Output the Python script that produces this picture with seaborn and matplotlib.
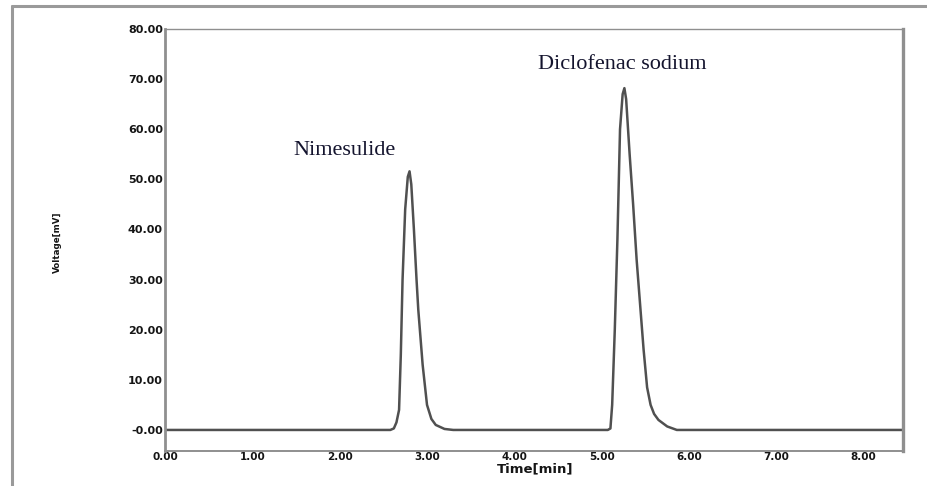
import matplotlib
matplotlib.use("Agg")
import matplotlib.pyplot as plt
from matplotlib.lines import Line2D
import seaborn as sns
import pandas as pd

# ---- data ----
baseline_start_t = [0.00, 1.00, 2.00, 2.50]
baseline_start_v = [0.0, 0.0, 0.0, 0.0]

nimesulide_t = [2.58, 2.62, 2.65, 2.68, 2.70, 2.72, 2.75, 2.78, 2.80, 2.82, 2.85, 2.88,
                2.90, 2.95, 3.00, 3.05, 3.10, 3.20, 3.30]
nimesulide_v = [0.0, 0.3, 1.5, 4.0, 15.0, 30.0, 44.0, 50.5, 51.6, 49.0, 40.0, 30.0,
                24.0, 13.0, 5.0, 2.2, 1.0, 0.2, 0.0]

baseline_mid_t = [3.50, 4.00, 4.50, 5.00]
baseline_mid_v = [0.0, 0.0, 0.0, 0.0]

diclofenac_t = [5.07, 5.10, 5.12, 5.15, 5.18, 5.21, 5.24, 5.26, 5.28, 5.32, 5.36, 5.40,
                5.44, 5.48, 5.52, 5.56, 5.60, 5.65, 5.75, 5.86]
diclofenac_v = [0.0, 0.3, 5.0, 20.0, 38.0, 60.0, 67.0, 68.2, 66.0, 55.0, 45.0, 34.0,
                25.0, 16.0, 8.5, 5.0, 3.2, 2.0, 0.7, 0.0]

baseline_end_t = [6.00, 7.00, 8.00, 8.45]
baseline_end_v = [0.0, 0.0, 0.0, 0.0]

x_ticks = [0, 1, 2, 3, 4, 5, 6, 7, 8]
x_ticklabels = ["0.00", "1.00", "2.00", "3.00", "4.00", "5.00", "6.00", "7.00", "8.00"]
y_ticks = [0, 10, 20, 30, 40, 50, 60, 70, 80]
y_ticklabels = ["-0.00", "10.00", "20.00", "30.00", "40.00", "50.00", "60.00", "70.00", "80.00"]

peak_labels = ["Nimesulide", "Diclofenac sodium"]

# ---- build table ----
times = baseline_start_t + nimesulide_t + baseline_mid_t + diclofenac_t + baseline_end_t
volts = baseline_start_v + nimesulide_v + baseline_mid_v + diclofenac_v + baseline_end_v
df = pd.DataFrame({"Time": times, "Voltage": volts})

sns.set_style("white")
fig = plt.figure(figsize=(9.28, 4.86), dpi=100)
ax = fig.add_axes([165 / 928, 1 - 451 / 486, (903 - 165) / 928, (451 - 29) / 486])

sns.lineplot(data=df, x="Time", y="Voltage", ax=ax, color="#505050", linewidth=1.8,
             estimator=None, sort=True)

ax.set_xlim(0, 8.45)
ax.set_ylim(-4.2, 80)
ax.set_xticks(x_ticks)
ax.set_xticklabels(x_ticklabels)
ax.set_yticks(y_ticks)
ax.set_yticklabels(y_ticklabels)
ax.tick_params(axis="x", length=0, pad=1.0, labelsize=7.5)
ax.tick_params(axis="y", length=0, pad=1.5, labelsize=8)
for lab in ax.get_xticklabels() + ax.get_yticklabels():
    lab.set_fontweight("bold")
    lab.set_family("DejaVu Sans")
    lab.set_color("#151515")

ax.set_xlabel("")
ax.set_ylabel("")
fig.text(535 / 928, 1 - 469 / 486, "Time[min]", ha="center", va="center",
         fontsize=9.5, fontweight="bold", family="DejaVu Sans", color="#151515")
fig.text(57 / 928, 1 - 242 / 486, "Voltage[mV]", ha="center", va="center",
         rotation=90, fontsize=6.3, fontweight="bold", family="DejaVu Sans", color="#151515")

for side in ["left", "right", "top", "bottom"]:
    ax.spines[side].set_color("#8f8f8f")
ax.spines["left"].set_linewidth(2.0)
ax.spines["right"].set_linewidth(2.4)
ax.spines["top"].set_linewidth(1.0)
ax.spines["bottom"].set_linewidth(1.4)

# peak annotations
ax.annotate(peak_labels[0], xy=(nimesulide_t[8], nimesulide_v[8]), xytext=(345 / 928, 1 - 150 / 486),
            textcoords="figure fraction", ha="center", va="center", fontsize=16,
            family="Liberation Serif", color="#14142e")
ax.annotate(peak_labels[1], xy=(diclofenac_t[7], diclofenac_v[7]), xytext=(622 / 928, 1 - 64 / 486),
            textcoords="figure fraction", ha="center", va="center", fontsize=16,
            family="Liberation Serif", color="#14142e")

# outer frame of the original figure
fig.add_artist(Line2D([12 / 928, 12 / 928], [0, 1 - 6 / 486], transform=fig.transFigure,
                      color="#9a9a9a", linewidth=2.2))
fig.add_artist(Line2D([12 / 928, 1], [1 - 6 / 486, 1 - 6 / 486], transform=fig.transFigure,
                      color="#9a9a9a", linewidth=2.2))

fig.savefig("out.png", dpi=100, facecolor="white")
